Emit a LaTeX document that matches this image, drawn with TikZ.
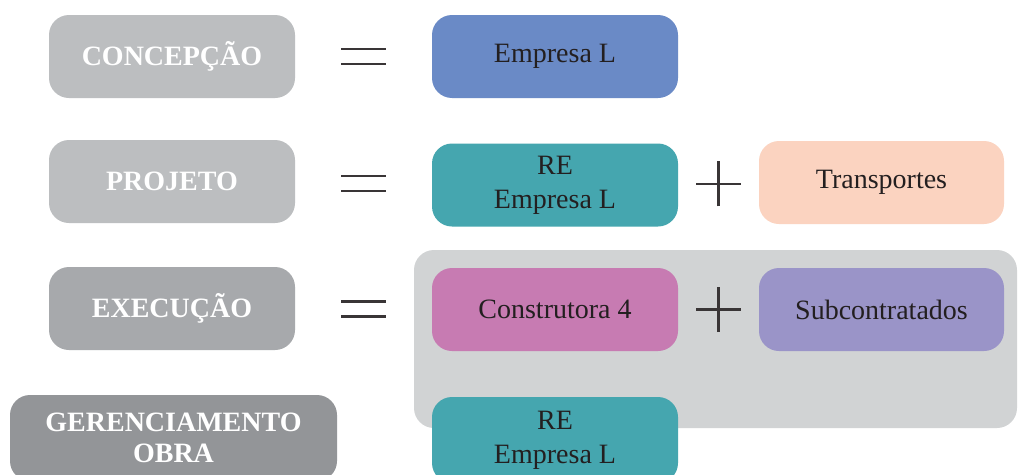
\documentclass[tikz,border=0pt]{standalone}
\usepackage{fontspec}
\setmainfont{Liberation Serif}
\usetikzlibrary{calc}
\definecolor{phaseA}{HTML}{BCBEC0}
\definecolor{phaseB}{HTML}{A7A9AC}
\definecolor{phaseC}{HTML}{939598}
\definecolor{groupbg}{HTML}{D1D3D4}
\definecolor{blueL}{HTML}{6A8AC6}
\definecolor{tealRE}{HTML}{45A6AF}
\definecolor{peach}{HTML}{FBD3C0}
\definecolor{pinkC}{HTML}{C77BB2}
\definecolor{purpleS}{HTML}{9A94C8}
\definecolor{ink}{HTML}{231F20}
\begin{document}
\begin{tikzpicture}[x=1pt,y=-1pt,
  box/.style={rounded corners=20pt,inner sep=0pt,align=center,
    minimum width=246pt,minimum height=83pt,font=\fontsize{28}{34}\selectfont,text=ink},
  phase/.style={box,text=white,font=\fontsize{28}{31}\selectfont\bfseries},
  sym/.style={line width=2.5pt,color=ink!90}]
\useasboundingbox (0,0) rectangle (1019,474);
\fill[white] (0,0) rectangle (1019,474);
% shaded group behind execution and management
\node[fill=groupbg,rounded corners=20pt,minimum width=603pt,minimum height=178pt,inner sep=0pt]
  (grp) at (715.5,339) {};
% phase labels
\node[phase,fill=phaseA] (conc) at (172,56.5) {CONCEPÇÃO};
\node[phase,fill=phaseA] (proj) at (172,181.5) {PROJETO};
\node[phase,fill=phaseB] (exec) at (172,308.5) {EXECUÇÃO};
\node[phase,fill=phaseC,minimum width=327pt,minimum height=86pt] (ger) at (173.5,438) {GERENCIAMENTO\\OBRA};
% participants
\node[box,fill=blueL] (empL) at (555,56.5) {Empresa L};
\node[box,fill=tealRE] (re1) at (555,185) {RE\\Empresa L};
\node[box,fill=peach,minimum width=245pt] (transp) at (881.5,182.5) {Transportes};
\node[box,fill=pinkC] (constr) at (555,309.5) {Construtora 4};
\node[box,fill=purpleS,minimum width=245pt] (subc) at (881.5,309.5) {Subcontratados};
\node[box,fill=tealRE,minimum height=86pt] (re2) at (555,440) {RE\\Empresa L};
% equals signs
\foreach \a/\b in {conc/empL,proj/re1,exec/constr}{
  \coordinate (m) at ($(\a.east)!0.5!(\b.west)$);
  \draw[sym] ([xshift=-22.5pt,yshift=-7.5pt]m) -- ([xshift=22.5pt,yshift=-7.5pt]m);
  \draw[sym] ([xshift=-22.5pt,yshift=7.5pt]m) -- ([xshift=22.5pt,yshift=7.5pt]m);
}
% plus signs
\foreach \a/\b in {re1/transp,constr/subc}{
  \coordinate (p) at ($(\a.east)!0.5!(\b.west)$);
  \draw[sym] ([xshift=-22.5pt]p) -- ([xshift=22.5pt]p);
  \draw[sym] ([yshift=-22.5pt]p) -- ([yshift=22.5pt]p);
}
\end{tikzpicture}
\end{document}
